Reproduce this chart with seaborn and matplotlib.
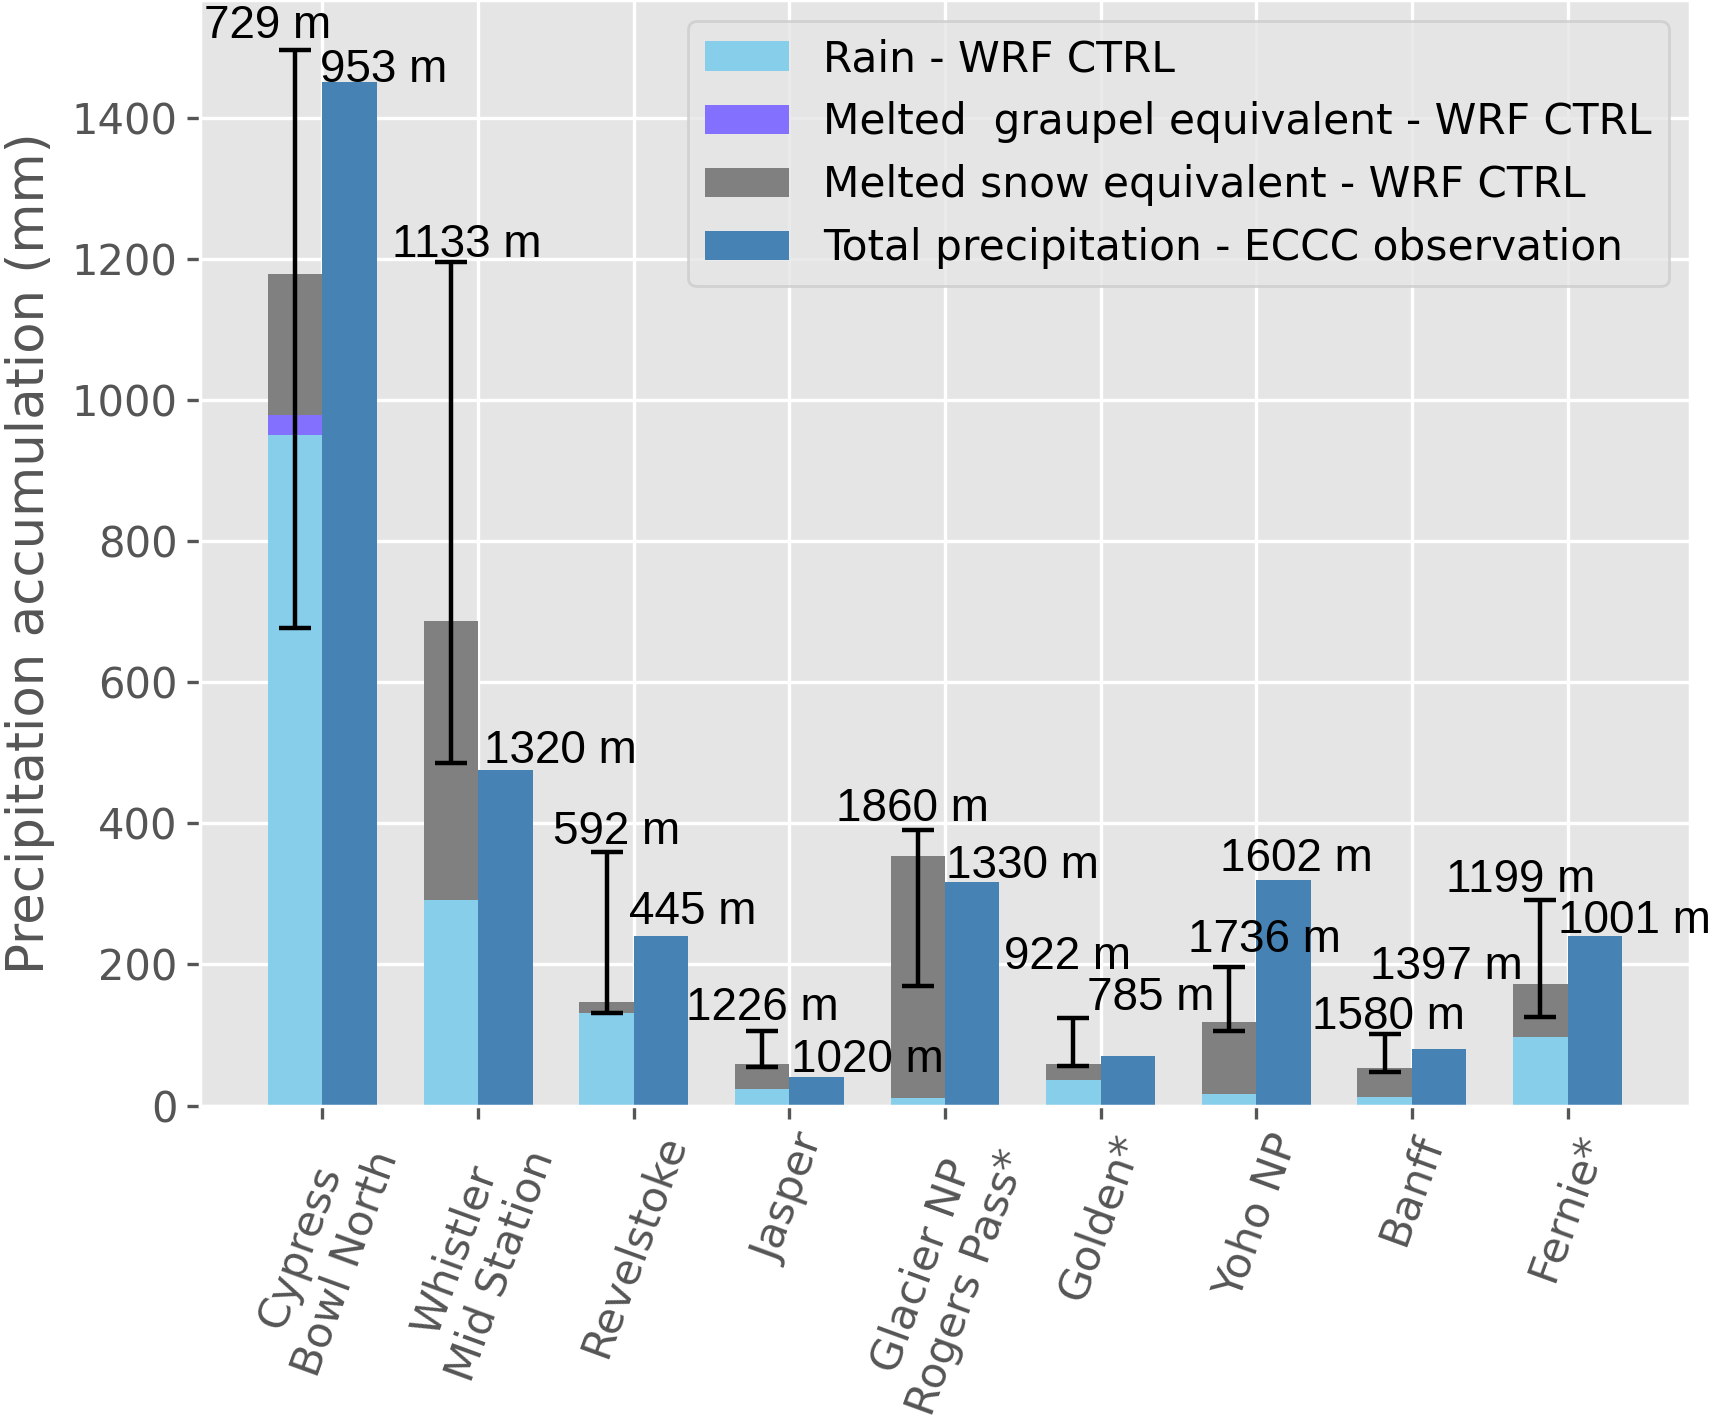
import numpy as np
import seaborn as sns
import matplotlib.pyplot as plt

sns.set_theme(style="darkgrid", rc={
    "axes.facecolor": "#E5E5E5",
    "grid.color": "white",
    "grid.linewidth": 1.2,
    "axes.labelcolor": "#555555",
    "xtick.color": "#555555",
    "ytick.color": "#555555",
    "xtick.bottom": True,
    "ytick.left": True,
    "xtick.major.size": 4.7,
    "ytick.major.size": 4.7,
    "xtick.major.width": 1.2,
    "ytick.major.width": 1.2,
    "text.color": "black",
})
plt.rcParams['font.family'] = ['DejaVu Sans']

stations = ["Cypress\nBowl North", "Whistler\nMid Station", "Revelstoke", "Jasper",
            "Glacier NP\nRogers Pass*", "Golden*", "Yoho NP", "Banff", "Fernie*"]
rain = [951, 292, 131, 23, 11, 36, 17, 12, 97]
graupel = [28, 0, 0, 0, 0, 0, 0, 0, 0]
snow = [200, 395, 16, 36, 342, 23, 102, 41, 75]
obs = [1451, 476, 240, 40, 317, 70, 320, 80, 241]
err_lo = [677, 486, 131, 54, 170, 56, 105, 48, 125]
err_hi = [1496, 1196, 359, 105, 391, 124, 196, 102, 291]
wrf_elev = [729, 1133, 592, 1226, 1860, 922, 1736, 1580, 1199]
obs_elev = [953, 1320, 445, 1020, 1330, 785, 1602, 1397, 1001]

# hand placement of the elevation labels
wrf_dx = [-0.35, -0.07, -0.11, -0.175, -0.21, -0.21, 0.05, -0.15, -0.30]
wrf_dy = [17, 7, 12, 16, 13, 69, 21, 6, 11]
obs_dx = [0.39, 0.53, 0.38, 0.50, 0.50, 0.32, 0.26, 0.22, 0.43]
obs_dy = [0, 10, 17, 8, 5, 66, 13, 99, 3]

x = np.arange(len(stations))
w = 0.35
rain = np.array(rain)
graupel = np.array(graupel)
snow = np.array(snow)
lo = np.array(err_lo)
hi = np.array(err_hi)

fig = plt.figure(figsize=(8.56, 7.105), dpi=200)
ax = fig.add_axes([0.117, 0.222, 0.87, 0.778])

ax.bar(x - w / 2, rain, w, color="skyblue", linewidth=0, label="Rain - WRF CTRL")
ax.bar(x - w / 2, graupel, w, bottom=rain, color="#8470FF", linewidth=0,
       label="Melted  graupel equivalent - WRF CTRL")
ax.bar(x - w / 2, snow, w, bottom=rain + graupel, color="grey", linewidth=0,
       label="Melted snow equivalent - WRF CTRL")
ax.bar(x + w / 2, obs, w, color="steelblue", linewidth=0,
       label="Total precipitation - ECCC observation")

ax.errorbar(x - w / 2, (lo + hi) / 2, yerr=(hi - lo) / 2, fmt="none", ecolor="black",
            elinewidth=1.6, capsize=5.9, capthick=1.6)

for i in range(len(stations)):
    ax.text(i + wrf_dx[i], hi[i] + wrf_dy[i], "%d m" % wrf_elev[i], ha="center",
            va="baseline", fontsize=16.5, color="black",
            family=["Liberation Sans", "DejaVu Sans"])
    ax.text(i + obs_dx[i], obs[i] + obs_dy[i], "%d m" % obs_elev[i], ha="center",
            va="baseline", fontsize=16.5, color="black",
            family=["Liberation Sans", "DejaVu Sans"])

ax.set_ylim(0, 1567)
ax.set_xticks(x)
ax.set_xticklabels(stations, rotation=70, fontsize=15.5, ha="center")
ax.tick_params(axis="y", labelsize=15)
ax.set_ylabel("Precipitation accumulation (mm)", fontsize=18.5, labelpad=6)
leg = ax.legend(loc="upper right", fontsize=15.2, frameon=True, facecolor="#E5E5E5",
                edgecolor="#CCCCCC", labelcolor="black", labelspacing=0.5)

fig.savefig("out.png", dpi=200)
